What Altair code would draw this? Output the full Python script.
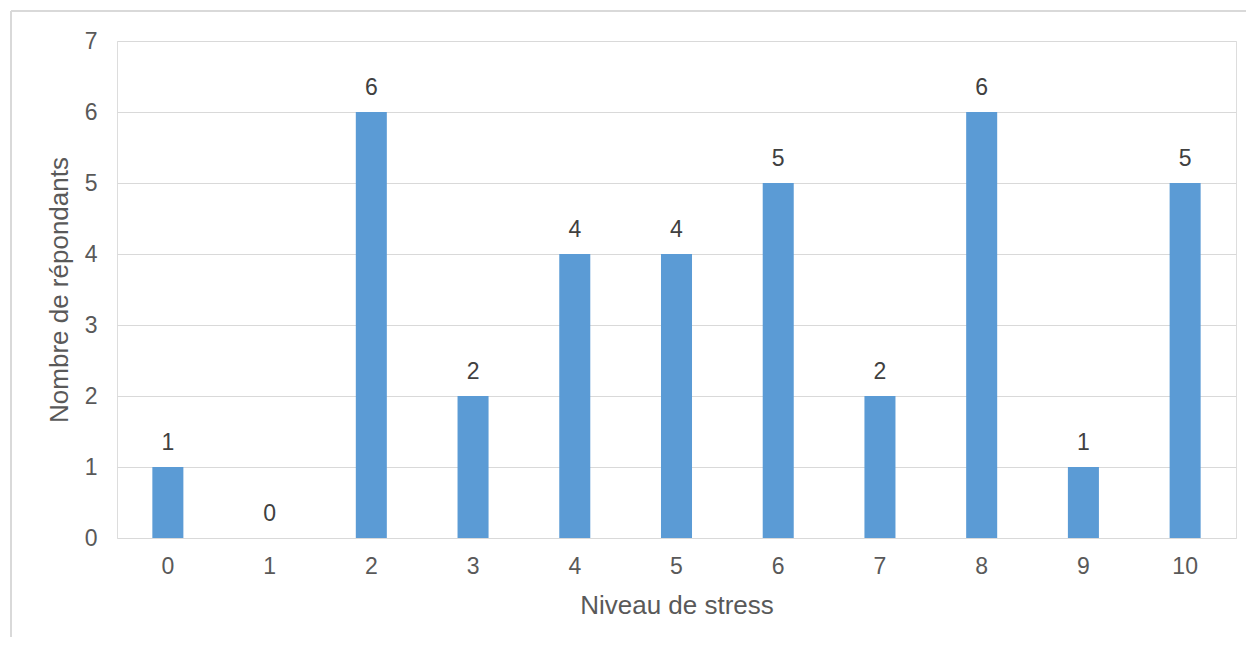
import altair as alt
import pandas as pd

niveaux = ["0", "1", "2", "3", "4", "5", "6", "7", "8", "9", "10"]
repondants = [1, 0, 6, 2, 4, 4, 5, 2, 6, 1, 5]
y_ticks = [0, 1, 2, 3, 4, 5, 6, 7]

df = pd.DataFrame({"niveau": niveaux, "n": repondants})

FONT = "Liberation Sans"
TXT = "#595959"
GRID = "#D9D9D9"

x = alt.X("niveau:N", sort=niveaux,
          scale=alt.Scale(paddingInner=0.695, paddingOuter=0.3475),
          axis=alt.Axis(title="Niveau de stress", labelAngle=0, domain=False, ticks=False,
                        labelPadding=17, labelFontSize=23, labelColor=TXT, labelFont=FONT,
                        titleFontSize=26, titleFontWeight="normal", titleColor=TXT, titleFont=FONT,
                        titleY=75, titleBaseline="alphabetic"))
y = alt.Y("n:Q", scale=alt.Scale(domain=[0, 7], nice=False),
          axis=alt.Axis(title="Nombre de répondants", values=y_ticks, format="d",
                        domain=False, ticks=False,
                        grid=True, gridColor=GRID, gridWidth=1,
                        labelPadding=20, labelFontSize=23, labelColor=TXT, labelFont=FONT,
                        titleFontSize=26, titleFontWeight="normal", titleColor=TXT, titleFont=FONT,
                        titleX=-50, titleBaseline="alphabetic"))

base = alt.Chart(df)
bars = base.mark_bar(color="#5B9BD5").encode(x=x, y=y)
labels = base.mark_text(dy=-17, baseline="alphabetic", fontSize=23, font=FONT, color="#404040").encode(
    x=alt.X("niveau:N", sort=niveaux), y="n:Q", text="n:Q")

border_left = alt.Chart(df).mark_rule(color=GRID, strokeWidth=1.5).encode(
    x=alt.value(-106), y=alt.value(-30), y2=alt.value(620))
border_top = alt.Chart(df).mark_rule(color=GRID, strokeWidth=1.5).encode(
    x=alt.value(-106), x2=alt.value(1140), y=alt.value(-30))

chart = alt.layer(border_left, border_top, bars, labels).properties(
    width=1119, height=497,
    autosize=alt.AutoSizeParams(type="none"),
    padding={"left": 109, "top": 33, "right": 10, "bottom": 99},
).configure_view(stroke=None).configure(background="white")

chart.save("out.html", embed_options={"renderer": "svg", "actions": False})
